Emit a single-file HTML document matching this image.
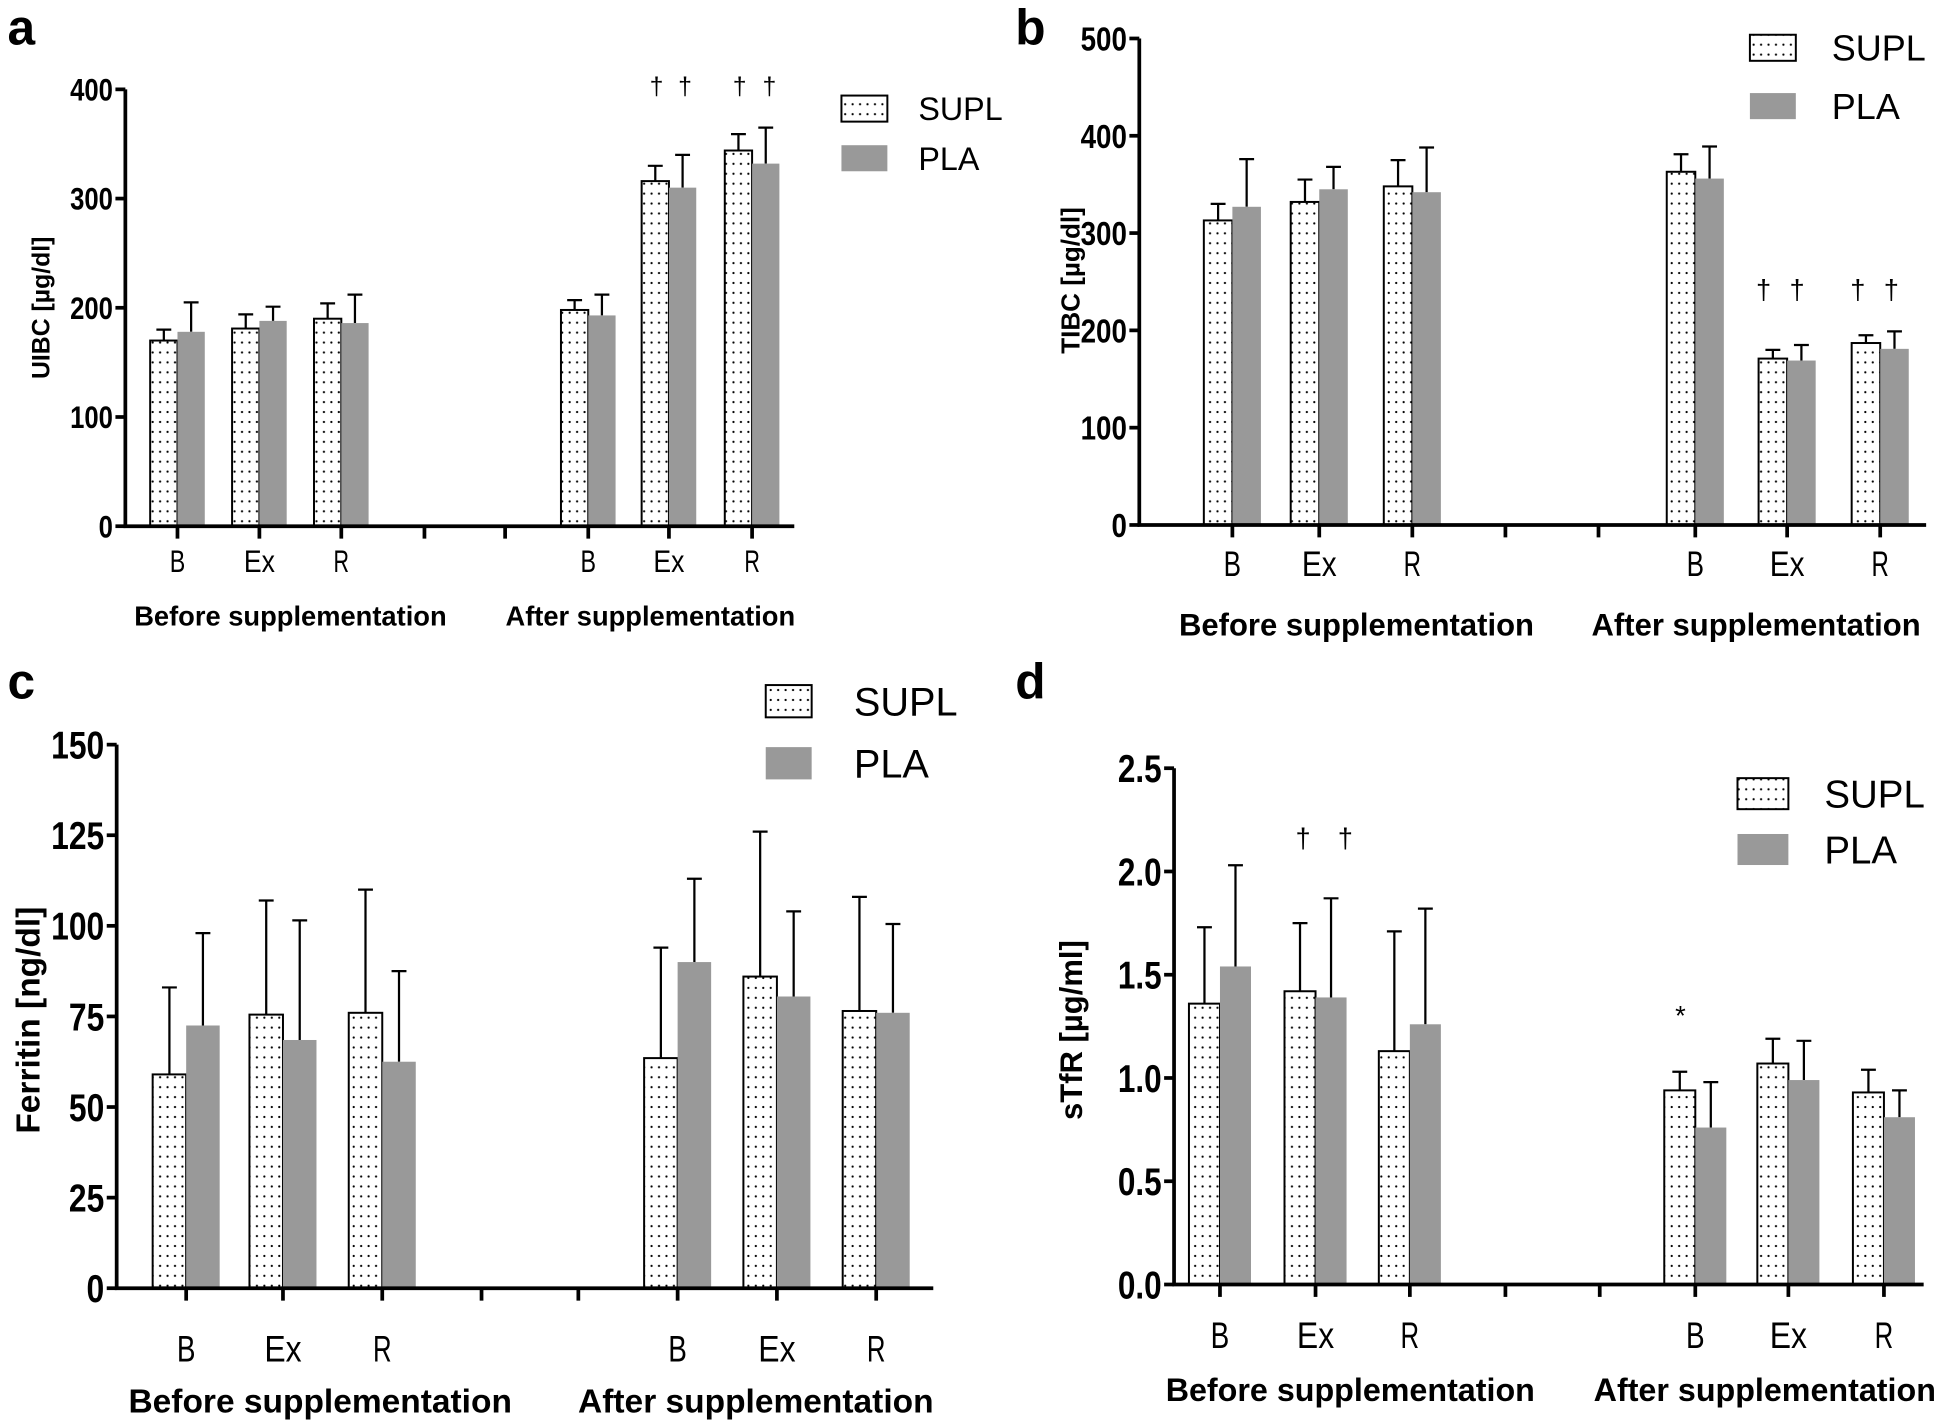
<!DOCTYPE html>
<html><head><meta charset="utf-8"><style>
html,body{margin:0;padding:0;background:#fff;}
svg{display:block;}
text{font-family:"Liberation Sans Narrow","Liberation Sans",sans-serif;}
.bold{font-family:"Liberation Sans",sans-serif;font-weight:bold;}
</style></head><body>
<svg id="fig" width="1946" height="1423" viewBox="0 0 1568 1146.6" xmlns="http://www.w3.org/2000/svg">
<defs>
<pattern id="dots" width="6" height="8" patternUnits="userSpaceOnUse">
<rect width="6" height="8" fill="#fff"/><circle cx="3" cy="4" r="0.9" fill="#000"/>
</pattern>
</defs>
</svg>
<script>
const categories = ["B","Ex","R","B","Ex","R"];
const groupLabels = ["Before supplementation","After supplementation"];
// panel a UIBC
const aSupl = [170,181,190,198,316,344];
const aSuplErr = [180,194,204,207,330,359];
const aPla = [178,188,186,193,310,332];
const aPlaErr = [205,201,212,212,340,365];
const aTicks = [0,100,200,300,400];
// panel b TIBC
const bSupl = [313,332,348,363,171,187];
const bSuplErr = [330,355,375,381,180,195];
const bPla = [327,345,342,356,169,181];
const bPlaErr = [376,368,388,389,185,199];
const bTicks = [0,100,200,300,400,500];
// panel c Ferritin
const cSupl = [59,75.5,76,63.5,86,76.5];
const cSuplErr = [83,107,110,94,126,108];
const cPla = [72.5,68.5,62.5,90,80.5,76];
const cPlaErr = [98,101.5,87.5,113,104,100.5];
const cTicks = [0,25,50,75,100,125,150];
// panel d sTfR
const dSupl = [1.36,1.42,1.13,0.94,1.07,0.93];
const dSuplErr = [1.73,1.75,1.71,1.03,1.19,1.04];
const dPla = [1.54,1.39,1.26,0.76,0.99,0.81];
const dPlaErr = [2.03,1.87,1.82,0.98,1.18,0.94];
const dTicks = ["0.0","0.5","1.0","1.5","2.0","2.5"];

const NS="http://www.w3.org/2000/svg";
const svg=document.getElementById('fig');
function mk(tag,attrs,parent,txt){const e=document.createElementNS(NS,tag);for(const k in attrs)e.setAttribute(k,attrs[k]);if(txt!==undefined)e.textContent=txt;(parent||svg).appendChild(e);return e;}

function panel(p){
  const g=mk('g',{});
  
  
  const ymax=p.ticks[p.ticks.length-1]*1;
  const ys=v=>p.y0-(v/ymax)*(p.y0-p.ytop);
  const L=mk('text',{x:p.lx,y:p.ly,'font-size':40,'class':'bold'},g,p.id);
  
  
  const yl=mk('text',{x:0,y:0,'font-size':p.ylfs,'class':'bold','text-anchor':'middle',transform:`translate(${p.ylx},${p.ylc}) rotate(-90)`},g,p.ylabel);
  
  
  for(let i=0;i<6;i++){
    const cx=p.xt[i<3?i:i+2];
    const w=p.bw;
    const s=p.supl[i],se=p.suplErr[i],pl=p.pla[i],pe=p.plaErr[i];
    const e1=mk('path',{d:`M${cx-w/2} ${ys(s)}V${ys(se)}M${cx-w/2-6} ${ys(se)}h12`,stroke:'#000','stroke-width':1.8,fill:'none'},g);
    
    
    const e2=mk('path',{d:`M${cx+w/2} ${ys(pl)}V${ys(pe)}M${cx+w/2-6} ${ys(pe)}h12`,stroke:'#000','stroke-width':1.8,fill:'none'},g);
    
    
    const r1=mk('rect',{x:cx-w,y:ys(s),width:w,height:p.y0-ys(s),fill:'url(#dots)',stroke:'#000','stroke-width':1.6},g);
    
    
    const r2=mk('rect',{x:cx,y:ys(pl),width:w,height:p.y0-ys(pl),fill:'#999'},g);
    
    
  }
  const ax=mk('path',{d:`M${p.x0} ${p.ytop}V${p.y0}H${p.xend}`,stroke:'#000','stroke-width':3,fill:'none'},g);
  
  
  p.ticks.forEach(t=>{
    const y=ys(t*1);
    mk('path',{d:`M${p.x0-8} ${y}H${p.x0}`,stroke:'#000','stroke-width':3},g);
    const s=String(t);
    const tl=mk('text',{x:p.x0-10,y:y+p.tfs*0.36,'font-size':p.tfs,'font-weight':'bold','text-anchor':'end',textLength:(s.replace('.','').length*p.tfs*0.46+(s.includes('.')?p.tfs*0.22:0)).toFixed(1),lengthAdjust:'spacingAndGlyphs'},g,s);
    
    
  });
  p.xt.forEach(x=>mk('path',{d:`M${x} ${p.y0}v10`,stroke:'#000','stroke-width':3},g));
  categories.forEach((c,i)=>{
    const x=p.xt[i<3?i:i+2];
    const t=mk('text',{x:x,y:p.cy,'font-size':p.cfs,'text-anchor':'middle',textLength:(c.length*p.cfs*0.5).toFixed(1),lengthAdjust:'spacingAndGlyphs'},g,c);
    
    
  });
  groupLabels.forEach((c,i)=>{
    const t=mk('text',{x:p.gx[i],y:p.gy,'font-size':p.gfs,'class':'bold','text-anchor':'middle'},g,c);
    
    
  });
  p.marks.forEach(m=>{
    const t=mk('text',{x:m[0],y:m[1],'font-size':p.mfs,'text-anchor':'middle','font-family':'DejaVu Sans, sans-serif'},g,m[2]);
    
    
  });
  const lg=mk('g',{},g);
  
  
  const lb=p.leg;
  const le1=mk('rect',{x:lb.x,y:lb.y1,width:lb.w,height:lb.h,fill:'url(#dots)',stroke:'#000','stroke-width':1.6},lg);
  
  
  mk('text',{x:lb.tx,y:lb.y1+lb.h/2+lb.fs*0.36,'font-size':lb.fs},lg,'SUPL');
  const le2=mk('rect',{x:lb.x,y:lb.y2,width:lb.w,height:lb.h,fill:'#999'},lg);
  
  
  mk('text',{x:lb.tx,y:lb.y2+lb.h/2+lb.fs*0.36,'font-size':lb.fs},lg,'PLA');
}

panel({id:'a',lx:6,ly:36,ylabel:'UIBC [µg/dl]',ylx:40,ylc:248,ylfs:20,
  supl:aSupl,suplErr:aSuplErr,pla:aPla,plaErr:aPlaErr,ticks:aTicks,
  x0:101,xend:640,y0:424,ytop:72,xt:[143,209,275,342,407,474,539,606],bw:22,
  tfs:25,cfs:25,cy:461,gfs:22,gy:504,gx:[234,524],
  marks:[[529,76,'†'],[552,76,'†'],[596,76,'†'],[620,76,'†']],mfs:20,
  leg:{x:678,y1:77,y2:117,w:37,h:21,tx:740,fs:26}});
panel({id:'b',lx:818,ly:36,ylabel:'TIBC [µg/dl]',ylx:870,ylc:226,ylfs:21,
  supl:bSupl,suplErr:bSuplErr,pla:bPla,plaErr:bPlaErr,ticks:bTicks,
  x0:918,xend:1552,y0:423,ytop:31,xt:[993,1063,1138,1213,1288,1366,1440,1515],bw:23,
  tfs:27,cfs:28,cy:464,gfs:25,gy:512,gx:[1093,1415],
  marks:[[1421,241,'†'],[1448,241,'†'],[1497,241,'†'],[1524,241,'†']],mfs:22,
  leg:{x:1410,y1:28,y2:75,w:37,h:21,tx:1476,fs:29}});
panel({id:'c',lx:6,ly:563,ylabel:'Ferritin [ng/dl]',ylx:32,ylc:822,ylfs:27,
  supl:cSupl,suplErr:cSuplErr,pla:cPla,plaErr:cPlaErr,ticks:cTicks,
  x0:94,xend:752,y0:1038,ytop:600,xt:[150,228,308,388,466,546,626,706],bw:27,
  tfs:31,cfs:30,cy:1097,gfs:27,gy:1138,gx:[258,609],
  marks:[],mfs:22,
  leg:{x:617,y1:552,y2:602,w:37,h:26,tx:688,fs:32}});
panel({id:'d',lx:818,ly:563,ylabel:'sTfR [µg/ml]',ylx:872,ylc:830,ylfs:25,
  supl:dSupl,suplErr:dSuplErr,pla:dPla,plaErr:dPlaErr,ticks:dTicks,
  x0:946,xend:1550,y0:1035,ytop:619,xt:[983,1060,1136,1213,1289,1366,1441,1518],bw:25,
  tfs:31,cfs:30,cy:1086,gfs:26,gy:1129,gx:[1088,1422],
  marks:[[1050,683,'†'],[1084,683,'†'],[1354,826,'*']],mfs:22,
  leg:{x:1400,y1:627,y2:672,w:41,h:25,tx:1470,fs:31}});
</script>
</body></html>
